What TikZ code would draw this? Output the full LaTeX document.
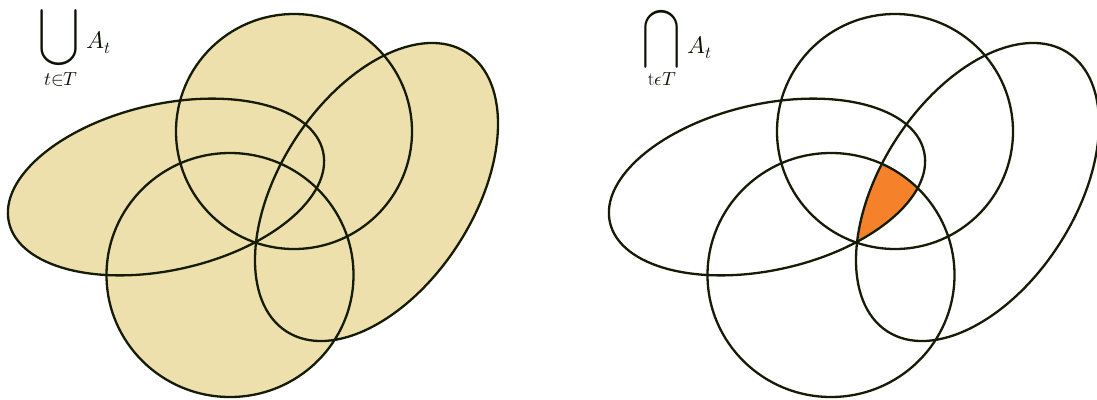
\documentclass[tikz,border=0pt]{standalone}
\usepackage{amsmath}
\usepackage{unicode-math}
\usepackage{graphicx}
\definecolor{lineclr}{HTML}{141C05}
\definecolor{tanfill}{HTML}{EDE0AD}
\definecolor{orangefill}{HTML}{F5822A}
\newcommand\setA[1]{\path[#1] (294,-131.5) ellipse (118 and 117.5);}
\newcommand\setB[1]{\path[#1, rotate around={12.7:(166,-187)}] (166,-187) ellipse (161 and 83);}
\newcommand\setC[1]{\path[#1] (230,-275) ellipse (123.5 and 122);}
\newcommand\setD[1]{\path[#1, rotate around={57.1:(376.5,-192)}] (376.5,-192) ellipse (166 and 97);}
\begin{document}
\begin{tikzpicture}[x=1pt,y=1pt]
\tikzset{
  outline/.style={draw=lineclr, line width=2.3pt},
  unionfill/.style={fill=tanfill},
  meetfill/.style={fill=orangefill},
  optext/.style={inner sep=0pt, text=lineclr!60!black},
}
\useasboundingbox (0,0) rectangle (1097,-399);
% ---------- left panel: union ----------
\begin{scope}
  \setA{unionfill}\setB{unionfill}\setC{unionfill}\setD{unionfill}
  \setA{outline}\setB{outline}\setC{outline}\setD{outline}
\end{scope}
\node[optext] (uop) at (59.5,-38) {\resizebox*{41pt}{56pt}{$\displaystyle\bigcup$}};
\node[optext, anchor=base west] (uA) at (86,-48) {\fontsize{24}{28}\selectfont $A_t$};
\node[optext] (usub) at (61,-79) {\fontsize{19}{22}\selectfont $t{\in}T$};
% ---------- right panel: intersection ----------
\begin{scope}[xshift=601pt]
  \begin{scope}
    \setA{clip}
    \setB{clip}
    \setC{clip}
    \setD{meetfill}
  \end{scope}
  \setA{outline}\setB{outline}\setC{outline}\setD{outline}
\end{scope}
\node[optext] (iop) at (661,-39) {\resizebox*{38pt}{58pt}{$\displaystyle\bigcap$}};
\node[optext, anchor=base west] (iA) at (687,-53) {\fontsize{24}{28}\selectfont $A_t$};
\node[optext] (isub) at (662,-79) {\fontsize{19}{22}\selectfont $\mathrm{t}{\epsilon}T$};
\end{tikzpicture}
\end{document}
